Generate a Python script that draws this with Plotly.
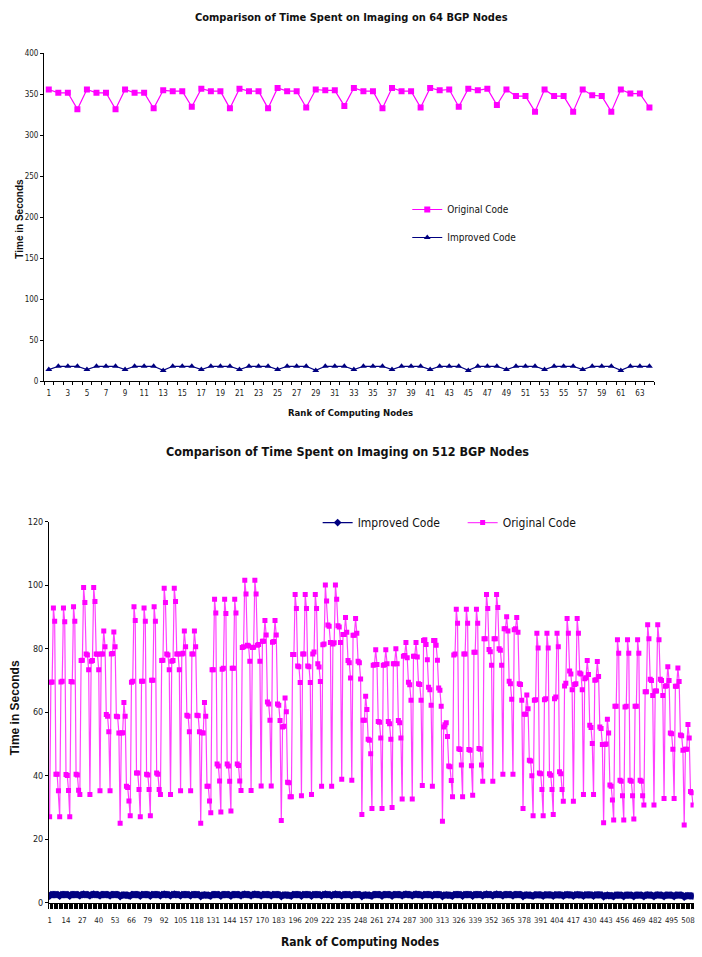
import plotly.graph_objects as go

W, H = 702, 957

# ---------------- 64-node chart data ----------------
nodes_64 = list(range(1, 65))
original_64 = [356, 352, 352, 332, 356, 352, 352, 332, 356, 352, 352, 333, 355, 354, 354, 335,
               357, 354, 354, 333, 357, 354, 354, 333, 358, 354, 354, 334, 356, 355, 355, 336,
               358, 354, 354, 333, 358, 354, 354, 334, 358, 355, 356, 335, 357, 355, 357, 337,
               356, 348, 348, 329, 356, 348, 348, 329, 356, 349, 348, 329, 356, 351, 351, 334]
improved_64 = [14, 18, 18, 18, 14, 18, 18, 18, 14, 18, 18, 18, 13, 18, 18, 18,
               14, 18, 18, 18, 14, 18, 18, 18, 14, 18, 18, 18, 13, 18, 18, 18,
               14, 18, 18, 18, 14, 18, 18, 18, 14, 18, 18, 18, 13, 18, 18, 18,
               14, 18, 18, 18, 14, 18, 18, 18, 14, 18, 18, 18, 13, 18, 18, 18]
ticks_64 = list(range(1, 64, 2))

# ---------------- 512-node chart data (rows of 8 ranks) ----------------
original_512_rows = [
    [27.0, 69.4, 69.5, 92.8, 88.6, 40.4, 40.4, 35.2],
    [27.0, 69.5, 69.7, 92.8, 88.4, 40.3, 40.0, 35.3],
    [27.0, 69.6, 69.5, 93.2, 88.6, 40.4, 40.2, 35.4],
    [34.0, 76.2, 76.3, 99.2, 94.5, 78.3, 78.0, 73.3],
    [34.0, 76.0, 76.2, 99.2, 94.8, 78.3, 78.2, 73.3],
    [35.2, 78.3, 78.3, 85.5, 80.6, 59.2, 58.7, 53.8],
    [35.2, 78.3, 78.4, 85.2, 80.6, 58.7, 58.5, 53.4],
    [25.0, 53.4, 53.5, 63.0, 58.7, 36.6, 36.2, 32.0],
    [27.3, 69.4, 69.7, 93.2, 88.8, 40.8, 40.8, 35.6],
    [27.0, 69.7, 69.7, 92.8, 88.6, 40.4, 40.2, 35.6],
    [27.3, 70.0, 70.0, 93.2, 88.6, 40.8, 40.4, 35.6],
    [34.0, 76.2, 76.3, 99.0, 94.5, 78.3, 78.0, 73.3],
    [34.0, 76.0, 76.2, 99.0, 94.8, 78.3, 78.3, 73.3],
    [35.2, 78.3, 78.5, 85.5, 80.6, 59.0, 58.7, 53.8],
    [35.2, 78.3, 78.3, 85.5, 80.6, 59.0, 58.8, 53.8],
    [25.0, 53.5, 53.4, 63.0, 58.7, 36.6, 36.6, 32.0],
    [28.3, 73.3, 73.3, 95.5, 91.2, 43.6, 43.0, 38.3],
    [28.5, 73.5, 73.8, 95.5, 91.0, 43.6, 43.0, 38.2],
    [28.8, 73.8, 73.8, 95.5, 91.2, 43.6, 43.2, 38.3],
    [35.3, 80.3, 80.6, 101.5, 97.2, 81.0, 80.8, 76.0],
    [35.3, 80.3, 80.4, 101.5, 97.2, 81.0, 81.3, 76.0],
    [36.7, 82.3, 82.3, 88.8, 84.3, 63.2, 62.5, 57.4],
    [36.7, 82.0, 82.2, 88.8, 84.3, 62.5, 62.1, 57.3],
    [25.8, 55.3, 55.5, 64.4, 60.1, 37.9, 37.7, 33.3],
    [33.3, 78.1, 78.1, 97.0, 92.6, 74.5, 74.3, 69.3],
    [33.6, 78.3, 78.3, 97.0, 92.6, 74.5, 74.3, 69.3],
    [34.0, 78.3, 78.9, 97.0, 92.6, 75.2, 74.2, 69.6],
    [36.6, 81.2, 81.4, 100.0, 95.0, 87.4, 87.0, 81.9],
    [36.6, 81.4, 81.8, 100.0, 95.5, 87.2, 86.8, 81.9],
    [38.8, 84.4, 84.4, 89.8, 85.1, 76.2, 75.5, 70.7],
    [38.5, 84.2, 84.2, 89.5, 84.8, 76.0, 75.5, 70.4],
    [27.7, 57.4, 57.4, 65.0, 60.8, 51.4, 51.1, 46.9],
    [29.6, 74.7, 74.9, 79.6, 75.0, 57.0, 56.8, 51.8],
    [29.6, 74.7, 74.9, 79.6, 75.2, 57.0, 56.3, 51.4],
    [29.9, 75.2, 75.2, 79.9, 75.2, 57.3, 56.6, 51.8],
    [32.6, 77.6, 77.8, 81.9, 77.1, 69.4, 68.6, 63.7],
    [32.6, 77.6, 77.6, 81.9, 77.3, 68.9, 68.7, 63.7],
    [36.9, 82.5, 82.8, 81.3, 76.5, 67.8, 67.0, 62.1],
    [36.6, 82.5, 82.5, 81.0, 76.3, 67.6, 66.9, 61.8],
    [25.6, 55.3, 56.0, 56.6, 52.3, 43.0, 42.8, 38.4],
    [33.3, 78.0, 78.3, 92.4, 88.0, 48.4, 48.2, 43.3],
    [33.3, 78.3, 78.3, 92.4, 88.0, 48.2, 48.0, 43.1],
    [33.8, 78.8, 78.8, 92.4, 88.0, 48.5, 48.3, 43.3],
    [38.2, 83.1, 83.1, 97.0, 92.6, 79.7, 79.0, 74.7],
    [38.2, 83.1, 83.1, 97.0, 92.9, 79.9, 79.5, 74.7],
    [40.4, 86.2, 86.2, 90.0, 85.5, 69.7, 68.9, 64.0],
    [40.4, 85.9, 86.2, 89.8, 85.1, 68.9, 68.7, 63.7],
    [29.6, 59.3, 59.3, 65.4, 61.0, 44.8, 44.6, 39.9],
    [27.3, 63.7, 63.9, 84.8, 80.2, 40.8, 40.6, 35.6],
    [27.3, 63.9, 64.2, 84.8, 80.2, 40.6, 40.1, 35.6],
    [27.7, 64.2, 64.7, 84.8, 80.6, 41.2, 40.6, 35.6],
    [31.9, 68.2, 69.1, 89.5, 84.8, 72.9, 72.0, 67.0],
    [31.9, 68.7, 68.9, 89.5, 84.8, 72.3, 72.0, 67.0],
    [34.0, 70.5, 70.8, 76.2, 71.8, 55.8, 55.1, 50.1],
    [34.0, 70.0, 70.2, 75.9, 71.2, 55.3, 54.8, 49.8],
    [25.1, 49.8, 49.9, 57.7, 53.4, 37.0, 36.6, 32.3],
    [26.0, 61.8, 61.8, 82.8, 78.5, 38.5, 38.2, 33.6],
    [26.0, 61.6, 61.8, 82.8, 78.5, 38.5, 38.2, 33.6],
    [26.3, 61.8, 61.8, 82.8, 78.5, 38.5, 38.2, 33.6],
    [30.7, 66.4, 66.4, 87.5, 83.1, 70.3, 69.9, 65.2],
    [30.7, 66.6, 66.6, 87.5, 82.8, 70.3, 69.9, 65.2],
    [32.8, 68.1, 68.3, 74.3, 69.9, 53.4, 53.2, 48.3],
    [32.8, 68.1, 68.1, 73.9, 69.6, 52.8, 52.5, 48.0],
    [24.4, 48.3, 48.3, 56.1, 51.8, 35.0, 34.6, 30.7],
]
improved_512_rows = [
    [2.0, 2.5, 2.5, 2.5, 2.5, 2.5, 2.5, 2.4], [2.0, 2.5, 2.5, 2.5, 2.5, 2.5, 2.5, 2.4],
    [2.0, 2.5, 2.5, 2.5, 2.5, 2.5, 2.5, 2.4], [2.1, 2.5, 2.5, 2.6, 2.5, 2.5, 2.5, 2.4],
    [2.1, 2.5, 2.5, 2.6, 2.5, 2.5, 2.5, 2.4], [2.1, 2.5, 2.5, 2.5, 2.5, 2.5, 2.5, 2.4],
    [2.1, 2.5, 2.5, 2.5, 2.5, 2.5, 2.5, 2.4], [1.9, 2.3, 2.3, 2.4, 2.3, 2.3, 2.3, 2.2],
    [2.0, 2.5, 2.5, 2.5, 2.5, 2.5, 2.5, 2.4], [2.0, 2.5, 2.5, 2.5, 2.5, 2.5, 2.5, 2.4],
    [2.0, 2.5, 2.5, 2.5, 2.5, 2.5, 2.5, 2.4], [2.1, 2.5, 2.5, 2.6, 2.5, 2.5, 2.5, 2.4],
    [2.1, 2.5, 2.5, 2.6, 2.5, 2.5, 2.5, 2.4], [2.1, 2.5, 2.5, 2.5, 2.5, 2.5, 2.5, 2.4],
    [2.1, 2.5, 2.5, 2.5, 2.5, 2.5, 2.5, 2.4], [1.9, 2.3, 2.3, 2.4, 2.3, 2.3, 2.3, 2.2],
    [2.0, 2.5, 2.5, 2.5, 2.5, 2.5, 2.5, 2.4], [2.0, 2.5, 2.5, 2.5, 2.5, 2.5, 2.5, 2.4],
    [2.0, 2.5, 2.5, 2.5, 2.5, 2.5, 2.5, 2.4], [2.1, 2.5, 2.5, 2.6, 2.5, 2.5, 2.5, 2.4],
    [2.1, 2.5, 2.5, 2.6, 2.5, 2.5, 2.5, 2.4], [2.1, 2.5, 2.5, 2.5, 2.5, 2.5, 2.5, 2.4],
    [2.1, 2.5, 2.5, 2.5, 2.5, 2.5, 2.5, 2.4], [1.9, 2.3, 2.3, 2.4, 2.3, 2.3, 2.3, 2.2],
    [2.0, 2.5, 2.5, 2.5, 2.5, 2.5, 2.5, 2.4], [2.0, 2.5, 2.5, 2.5, 2.5, 2.5, 2.5, 2.4],
    [2.0, 2.5, 2.5, 2.5, 2.5, 2.5, 2.5, 2.4], [2.1, 2.5, 2.5, 2.6, 2.5, 2.5, 2.5, 2.4],
    [2.1, 2.5, 2.5, 2.6, 2.5, 2.5, 2.5, 2.4], [2.1, 2.5, 2.5, 2.5, 2.5, 2.5, 2.5, 2.4],
    [2.1, 2.5, 2.5, 2.5, 2.5, 2.5, 2.5, 2.4], [1.9, 2.3, 2.3, 2.4, 2.3, 2.3, 2.3, 2.2],
    [2.0, 2.5, 2.5, 2.5, 2.5, 2.5, 2.5, 2.4], [2.0, 2.5, 2.5, 2.5, 2.5, 2.5, 2.5, 2.4],
    [2.0, 2.5, 2.5, 2.5, 2.5, 2.5, 2.5, 2.4], [2.1, 2.5, 2.5, 2.6, 2.5, 2.5, 2.5, 2.4],
    [2.1, 2.5, 2.5, 2.6, 2.5, 2.5, 2.5, 2.4], [2.1, 2.5, 2.5, 2.5, 2.5, 2.5, 2.5, 2.4],
    [2.1, 2.5, 2.5, 2.5, 2.5, 2.5, 2.5, 2.4], [1.9, 2.3, 2.3, 2.4, 2.3, 2.3, 2.3, 2.2],
    [2.0, 2.5, 2.5, 2.5, 2.5, 2.5, 2.5, 2.4], [2.0, 2.5, 2.5, 2.5, 2.5, 2.5, 2.5, 2.4],
    [2.0, 2.5, 2.5, 2.5, 2.5, 2.5, 2.5, 2.4], [2.1, 2.5, 2.5, 2.6, 2.5, 2.5, 2.5, 2.4],
    [2.1, 2.5, 2.5, 2.6, 2.5, 2.5, 2.5, 2.4], [2.1, 2.5, 2.5, 2.5, 2.5, 2.5, 2.5, 2.4],
    [2.1, 2.5, 2.5, 2.5, 2.5, 2.5, 2.5, 2.4], [1.9, 2.3, 2.3, 2.4, 2.3, 2.3, 2.3, 2.2],
    [2.0, 2.4, 2.4, 2.4, 2.4, 2.4, 2.4, 2.3], [2.0, 2.4, 2.4, 2.4, 2.4, 2.4, 2.4, 2.3],
    [2.0, 2.4, 2.4, 2.4, 2.4, 2.4, 2.4, 2.3], [2.0, 2.4, 2.4, 2.5, 2.4, 2.4, 2.4, 2.3],
    [2.0, 2.4, 2.4, 2.5, 2.4, 2.4, 2.4, 2.3], [2.0, 2.4, 2.4, 2.4, 2.4, 2.4, 2.4, 2.3],
    [2.0, 2.4, 2.4, 2.4, 2.4, 2.4, 2.4, 2.3], [1.8, 2.2, 2.2, 2.3, 2.2, 2.2, 2.2, 2.1],
    [1.9, 2.3, 2.3, 2.3, 2.3, 2.3, 2.3, 2.2], [1.9, 2.3, 2.3, 2.3, 2.3, 2.3, 2.3, 2.2],
    [1.9, 2.3, 2.3, 2.3, 2.3, 2.3, 2.3, 2.2], [1.9, 2.3, 2.3, 2.4, 2.3, 2.3, 2.3, 2.2],
    [1.9, 2.3, 2.3, 2.4, 2.3, 2.3, 2.3, 2.2], [1.9, 2.3, 2.3, 2.3, 2.3, 2.3, 2.3, 2.2],
    [1.9, 2.3, 2.3, 2.3, 2.3, 2.3, 2.3, 2.2], [1.7, 2.1, 2.1, 2.2, 2.1, 2.1, 2.1, 2.0],
]
original_512 = [v for row in original_512_rows for v in row]
improved_512 = [v for row in improved_512_rows for v in row]
nodes_512 = list(range(1, len(original_512) + 1))
ticks_512 = list(range(1, 509, 13))

MAGENTA = "#FF00FF"
NAVY = "#000080"
FONT = "DejaVu Sans Condensed, Liberation Sans Narrow, Arial Narrow, Liberation Sans, sans-serif"
FONT_REG = "Liberation Sans, Arial, sans-serif"


def px_x(p):
    return p / W


def px_y(p):
    return 1 - p / H


fig = go.Figure()

# top chart
fig.add_trace(go.Scatter(
    x=nodes_64, y=original_64, name="Original Code", mode="lines+markers",
    line=dict(color=MAGENTA, width=1.2), marker=dict(symbol="square", size=6, color=MAGENTA),
    xaxis="x", yaxis="y", legend="legend", legendgroup="o64"))
fig.add_trace(go.Scatter(
    x=nodes_64, y=improved_64, name="Improved Code", mode="lines+markers",
    line=dict(color=NAVY, width=1.2), marker=dict(symbol="triangle-up", size=6, color=NAVY),
    xaxis="x", yaxis="y", legend="legend", legendgroup="i64"))

# bottom chart
fig.add_trace(go.Scatter(
    x=nodes_512, y=improved_512, name="Improved Code", mode="lines+markers",
    line=dict(color=NAVY, width=1.2), marker=dict(symbol="diamond", size=6, color=NAVY),
    xaxis="x2", yaxis="y2", legend="legend2"))
fig.add_trace(go.Scatter(
    x=nodes_512, y=original_512, name="Original Code", mode="lines+markers",
    line=dict(color="rgba(255,0,255,0.75)", width=1.2),
    marker=dict(symbol="square", size=5, color=MAGENTA),
    xaxis="x2", yaxis="y2", legend="legend2"))

axis_common = dict(showgrid=False, zeroline=False, showline=True, linecolor="black",
                   linewidth=1, ticks="outside", tickcolor="black", ticklen=3,
                   tickfont=dict(family=FONT, size=8, color="#222"))

x1_l, x1_r = 42.2, 655.0
x2_l, x2_r = 47.2, 694.6

fig.update_layout(
    width=W, height=H, margin=dict(l=0, r=0, t=0, b=0),
    paper_bgcolor="white", plot_bgcolor="white",
    xaxis=dict(axis_common, domain=[px_x(x1_l), px_x(x1_r)], range=[0.5, 64.5],
               tickvals=ticks_64, ticktext=[str(t) for t in ticks_64], ticks="", tickangle=0,
               ticklabelstandoff=4,
               minor=dict(ticks="outside", tick0=0.5, dtick=1, ticklen=3, tickcolor="black"),
               anchor="y"),
    yaxis=dict(axis_common, domain=[px_y(380), px_y(49)], range=[0, 400], dtick=50,
               anchor="x"),
    xaxis2=dict(axis_common, domain=[px_x(x2_l), px_x(x2_r)], range=[0.5, 512.5],
                tickvals=ticks_512, ticktext=[str(t) for t in ticks_512], ticks="", tickangle=0,
                ticklabelstandoff=10, ticklabeloverflow="allow",
                tickfont=dict(family=FONT, size=7.8, color="#222"),
                minor=dict(ticks="outside", tick0=0.5, dtick=1, ticklen=5, tickcolor="black"),
                anchor="y2"),
    yaxis2=dict(axis_common, domain=[px_y(907), px_y(522)], range=[0, 120], dtick=20,
                tickfont=dict(family=FONT, size=9, color="#222"), anchor="x2"),
    legend=dict(x=px_x(407), y=px_y(192), xanchor="left", yanchor="top",
                font=dict(family=FONT, size=10, color="#111"), tracegroupgap=9,
                bgcolor="rgba(0,0,0,0)"),
    legend2=dict(x=px_x(317), y=px_y(523), xanchor="left", yanchor="middle",
                 orientation="h", font=dict(family=FONT, size=12, color="#111"),
                 entrywidth=100, bgcolor="rgba(0,0,0,0)"),
    showlegend=True,
)

annotations = [
    dict(text="<b>Comparison of Time Spent on Imaging on 64 BGP Nodes</b>", x=px_x(351), y=px_y(13),
         font=dict(family=FONT, size=11, color="#111")),
    dict(text="<b>Rank of Computing Nodes</b>", x=px_x(350), y=px_y(412),
         font=dict(family=FONT, size=9.5, color="#111")),
    dict(text="<b>Time in Seconds</b>", x=px_x(18), y=px_y(216), textangle=-90,
         font=dict(family=FONT_REG, size=10, color="#111")),
    dict(text="<b>Comparison of Time Spent on Imaging on 512 BGP Nodes</b>", x=px_x(347), y=px_y(451),
         font=dict(family=FONT, size=12.5, color="#111")),
    dict(text="<b>Rank of Computing Nodes</b>", x=px_x(360), y=px_y(947),
         font=dict(family=FONT, size=12, color="#111")),
    dict(text="<b>Time in Seconds</b>", x=px_x(13), y=px_y(710), textangle=-90,
         font=dict(family=FONT_REG, size=12, color="#111")),
]
for a in annotations:
    a.update(xref="paper", yref="paper", showarrow=False, xanchor="center", yanchor="middle")
fig.update_layout(annotations=annotations)

fig.write_html(
    "out.html",
    config={"displayModeBar": False},
    post_script="document.body.style.margin='0px';document.body.style.padding='0px';"
                "document.body.style.overflow='hidden';",
)
